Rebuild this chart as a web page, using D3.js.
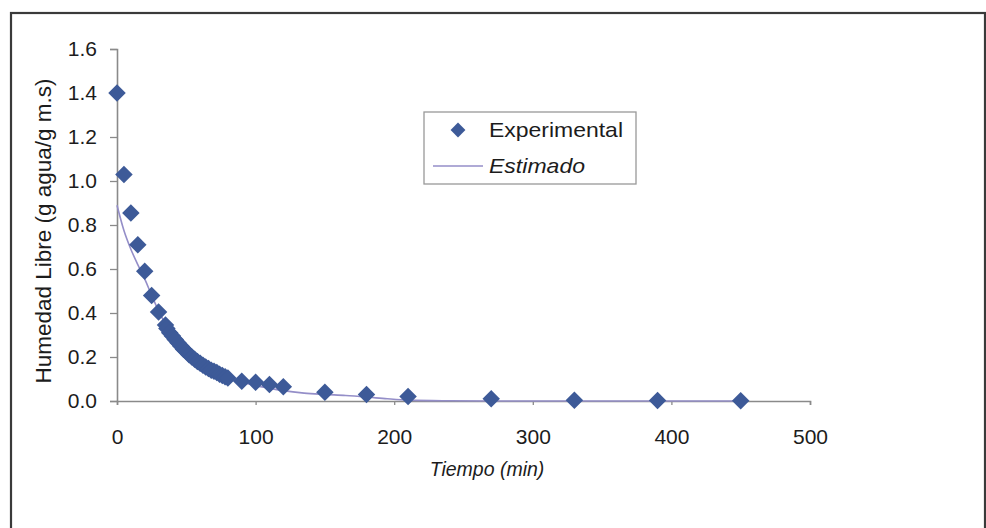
<!DOCTYPE html>
<html><head><meta charset="utf-8">
<script src="https://cdn.jsdelivr.net/npm/d3@7"></script>
<style>body{margin:0;background:#fff}svg{display:block}</style>
</head><body>
<script>
const expTime = [0,5,10,15,20,25,30,35,36,38,40,42,44,46,48,50,52,54,56,58,60,62,64,66,68,70,72,74,76,78,80,90,100,110,120,150,180,210,270,330,390,450];
const expValue = [1.40,1.03,0.855,0.71,0.59,0.48,0.405,0.345,0.33,0.31,0.295,0.28,0.265,0.25,0.235,0.225,0.21,0.20,0.19,0.18,0.172,0.163,0.155,0.148,0.14,0.135,0.13,0.122,0.116,0.11,0.105,0.09,0.085,0.075,0.065,0.04,0.03,0.02,0.01,0.003,0.002,0.001];
const estTime = [0,5,10,15,20,25,30,35,40,50,60,70,80,90,100,110,120,135,150,165,180,195,210,240,270,330,390,450];
const estValue = [0.89,0.775,0.69,0.62,0.555,0.48,0.41,0.35,0.30,0.23,0.175,0.135,0.105,0.085,0.07,0.058,0.047,0.036,0.03,0.025,0.018,0.01,0.004,0.001,0,0,0,0];
const xTicks = [0,100,200,300,400,500];
const yTicks = [0,0.2,0.4,0.6,0.8,1.0,1.2,1.4,1.6];
const seriesNames = ["Experimental","Estimado"];

const W=986,H=528;
const svg=d3.select("body").append("svg").attr("width",W).attr("height",H);
svg.append("rect").attr("x",11).attr("y",13).attr("width",974).attr("height",540)
  .attr("fill","none").attr("stroke","#3a3a3a").attr("stroke-width",2.2);

const x=d3.scaleLinear().domain([0,500]).range([117,810]);
const y=d3.scaleLinear().domain([0,1.6]).range([401,49]);
const font="Liberation Sans, Arial, sans-serif";
const axisCol="#8a8a8a";
const txtCol="#1c1c1c";

const gx=svg.append("g").attr("transform","translate(0,401)")
  .call(d3.axisBottom(x).tickValues(xTicks).tickSize(4).tickPadding(24).tickFormat(d3.format("d")));
const gy=svg.append("g").attr("transform","translate(117,0)")
  .call(d3.axisLeft(y).tickValues(yTicks).tickSize(7).tickPadding(13).tickFormat(d3.format(".1f")));
[gx,gy].forEach(g=>{
  g.select(".domain").attr("stroke",axisCol).attr("stroke-width",1.6);
  g.selectAll(".tick line").attr("stroke",axisCol).attr("stroke-width",1.3);
  g.selectAll(".tick text").attr("font-family",font).attr("font-size",21).attr("fill",txtCol);
});

// estimated line
svg.append("path").datum(estTime.map((t,i)=>[t,estValue[i]]))
  .attr("d",d3.line().x(d=>x(d[0])).y(d=>y(d[1])).curve(d3.curveMonotoneX))
  .attr("fill","none").attr("stroke","#948ec8").attr("stroke-width",1.6);

const diamond=d3.symbol().type(d3.symbolDiamond2).size(195);
const col="#3d5a98";
svg.append("g").selectAll("path").data(expTime.map((t,i)=>[t,expValue[i]])).join("path")
  .attr("d",diamond).attr("transform",d=>`translate(${x(d[0])},${y(d[1])})`).attr("fill",col);

// legend
const lg=svg.append("g");
lg.append("rect").attr("x",424).attr("y",112).attr("width",212).attr("height",72)
  .attr("fill","#fff").attr("stroke","#999").attr("stroke-width",1.3);
lg.append("path").attr("d",d3.symbol().type(d3.symbolDiamond2).size(140))
  .attr("transform","translate(458,130)").attr("fill",col);
lg.append("line").attr("x1",433).attr("x2",483).attr("y1",166).attr("y2",166)
  .attr("stroke","#948ec8").attr("stroke-width",1.6);
lg.append("text").attr("x",489).attr("y",137).text(seriesNames[0])
  .attr("font-family",font).attr("font-size",21).attr("fill",txtCol)
  .attr("textLength",134).attr("lengthAdjust","spacingAndGlyphs");
lg.append("text").attr("x",489).attr("y",173).text(seriesNames[1])
  .attr("font-family",font).attr("font-size",21).attr("font-style","italic").attr("fill",txtCol)
  .attr("textLength",96).attr("lengthAdjust","spacingAndGlyphs");

svg.append("text").attr("x",487).attr("y",476).attr("text-anchor","middle")
  .attr("font-family",font).attr("font-size",19.5).attr("font-style","italic").attr("fill",txtCol)
  .text("Tiempo (min)");
svg.append("text").attr("transform","translate(51,231) rotate(-90)").attr("text-anchor","middle")
  .attr("font-family",font).attr("font-size",22.5).attr("fill",txtCol)
  .text("Humedad Libre (g agua/g m.s)");
</script>
</body></html>
